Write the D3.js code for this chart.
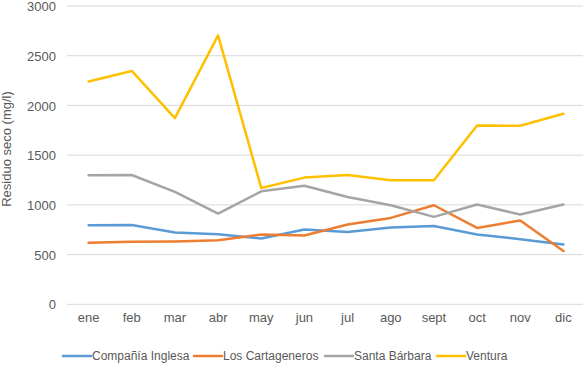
<!DOCTYPE html>
<html><head><meta charset="utf-8">
<script src="https://cdn.jsdelivr.net/npm/d3@7"></script>
<style>body{margin:0;background:#fff}svg{display:block}text{font-family:"Liberation Sans",Arial,sans-serif}</style>
</head><body>
<svg id="c" width="585" height="365"></svg>
<script>
const months = ["ene","feb","mar","abr","may","jun","jul","ago","sept","oct","nov","dic"];
const yTicks = [0,500,1000,1500,2000,2500,3000];
const seriesNames = ["Compañía Inglesa","Los Cartageneros","Santa Bárbara","Ventura"];
const companiaInglesa = [795,797,722,705,662,752,728,772,788,702,655,602];
const losCartageneros = [618,628,632,645,702,692,802,869,996,768,843,535];
const santaBarbara = [1297,1300,1130,913,1136,1193,1079,996,879,1003,903,1003];
const ventura = [2240,2347,1872,2704,1170,1274,1300,1247,1247,1798,1795,1916];
const colors = ["#5B9BD5","#ED7D31","#A5A5A5","#FFC000"];
const seriesValues = [companiaInglesa, losCartageneros, santaBarbara, ventura];

const svg = d3.select("#c");
const x = d3.scaleBand().domain(months).range([67,585]);
const y = d3.scaleLinear().domain([0,3000]).range([304.3,6]);

// gridlines
svg.append("g").selectAll("line").data(yTicks).join("line")
  .attr("x1",67).attr("x2",583).attr("y1",d=>y(d)).attr("y2",d=>y(d))
  .attr("stroke","#d9d9d9").attr("stroke-width",1);

// y axis labels
const ya = svg.append("g").attr("transform","translate(56,0)")
  .call(d3.axisLeft(y).tickValues(yTicks).tickSize(0).tickPadding(0).tickFormat(d3.format("d")));
ya.select(".domain").remove();
ya.selectAll("text").attr("fill","#595959").attr("dy","0.36em").style("font-size","13px");

// x axis labels
const xa = svg.append("g").attr("transform","translate(0,313)")
  .call(d3.axisBottom(x).tickSize(0).tickPadding(0));
xa.select(".domain").remove();
xa.selectAll("text").attr("fill","#595959").style("font-size","13px");

// y title
svg.append("text").attr("transform","translate(11,149) rotate(-90)")
  .attr("text-anchor","middle").attr("fill","#595959").style("font-size","13px")
  .text("Residuo seco (mg/l)");

const line = d3.line().x((d,i)=>x(months[i])+x.bandwidth()/2).y(d=>y(d));
svg.append("g").selectAll("path").data(seriesValues).join("path")
  .attr("d",line).attr("fill","none").attr("stroke",(d,i)=>colors[i])
  .attr("stroke-width",2.5).attr("stroke-linejoin","round").attr("stroke-linecap","round");

// legend
const legX = [63,194,325,437];
const lg = svg.append("g").selectAll("g").data(seriesNames).join("g")
  .attr("transform",(d,i)=>`translate(${legX[i]},356)`);
lg.append("line").attr("x1",0).attr("x2",28).attr("y1",0).attr("y2",0)
  .attr("stroke",(d,i)=>colors[i]).attr("stroke-width",2.5).attr("stroke-linecap","round");
lg.append("text").attr("x",29).attr("dy","0.35em").attr("fill","#595959").style("font-size","12px").text(d=>d);
</script>
</body></html>
